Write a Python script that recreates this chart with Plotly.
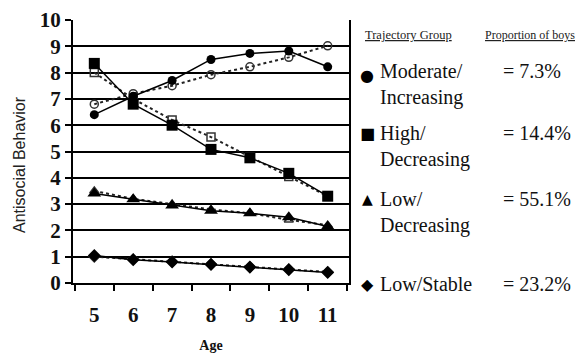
import plotly.graph_objects as go

ages = ["5", "6", "7", "8", "9", "10", "11"]

mod_est = [6.4, 7.1, 7.7, 8.5, 8.73, 8.82, 8.22]
mod_obs = [6.8, 7.2, 7.5, 7.92, 8.22, 8.58, 9.02]
high_est = [8.35, 6.8, 6.0, 5.08, 4.76, 4.17, 3.3]
high_obs = [8.0, 7.0, 6.2, 5.55, 4.8, 4.05, 3.3]
lowdec_est = [3.4, 3.18, 2.95, 2.75, 2.65, 2.5, 2.15]
lowdec_obs = [3.5, 3.2, 3.0, 2.8, 2.65, 2.4, 2.2]
lowst_est = [1.05, 0.88, 0.8, 0.7, 0.6, 0.5, 0.4]
lowst_obs = [1.0, 0.9, 0.82, 0.72, 0.62, 0.52, 0.42]

groups = ["Moderate/<br>Increasing", "High/<br>Decreasing", "Low/<br>Decreasing", "Low/Stable"]
proportions = ["= 7.3%", "= 14.4%", "= 55.1%", "= 23.2%"]
symbols = ["●", "■", "▲", "◆"]

yticks = list(range(0, 11))

fig = go.Figure()

series = [
    (mod_obs, "circle-open", 8),
    (high_obs, "square-open", 8),
    (lowdec_obs, "triangle-up-open", 8),
    (lowst_obs, "diamond-open", 8),
]
for vals, sym, sz in series:
    fig.add_trace(go.Scatter(x=ages, y=vals, mode="lines+markers",
                             line=dict(color="#222", width=2, dash="dot"),
                             marker=dict(symbol=sym, size=sz, color="#333", line=dict(width=1.5, color="#333")),
                             showlegend=False))

series_est = [
    (mod_est, "circle", 9),
    (high_est, "square", 11),
    (lowdec_est, "triangle-up", 12),
    (lowst_est, "diamond", 10),
]
for vals, sym, sz in series_est:
    fig.add_trace(go.Scatter(x=ages, y=vals, mode="lines+markers",
                             line=dict(color="black", width=1.5),
                             marker=dict(symbol=sym, size=sz, color="black"),
                             showlegend=False))

# page body has an 8px margin; figure sized to fit the window
OFF = 8
W, H = 588 - OFF, 353 - OFF
L, T = 73 - OFF, 20 - OFF
R = W - (349 - OFF)
B = H - (283 - OFF)
pw = W - L - R
ph = H - T - B

def px(x):
    return (x - OFF - L) / pw

def py(y):
    return (H - B - (y - OFF)) / ph

serif = "Liberation Serif"

ann = []
ann.append(dict(x=px(363), y=py(35), text="<u>Trajectory Group</u>", xanchor="left", yanchor="middle",
                font=dict(family=serif, size=12.5, color="#222")))
ann.append(dict(x=px(483), y=py(35), text="<u>Proportion of boys</u>", xanchor="left", yanchor="middle",
                font=dict(family=serif, size=12, color="#222")))
ann.append(dict(x=px(20), y=py(165), text="Antisocial Behavior", textangle=-90, xanchor="center", yanchor="middle",
                font=dict(family="Liberation Sans", size=16, color="#222")))

label_y = [71, 133, 199, 284]
sym_y = [75, 133, 199, 284]
sym_size = [16, 16, 14, 16]
for g, p, s, ly, sy, ss in zip(groups, proportions, symbols, label_y, sym_y, sym_size):
    ann.append(dict(x=px(378), y=py(ly - 13), text=g, xanchor="left", yanchor="top", align="left",
                    font=dict(family=serif, size=20, color="#111")))
    ann.append(dict(x=px(501), y=py(ly), text=p, xanchor="left", yanchor="middle",
                    font=dict(family=serif, size=20, color="#111")))
    ann.append(dict(x=px(367), y=py(sy), text=s, xanchor="center", yanchor="middle",
                    font=dict(family="DejaVu Sans", size=ss, color="black")))

for a in ann:
    a.update(xref="paper", yref="paper", showarrow=False)

fig.update_layout(
    width=W, height=H,
    margin=dict(l=L, r=R, t=T, b=B, autoexpand=False),
    paper_bgcolor="white", plot_bgcolor="white",
    annotations=ann,
    xaxis=dict(type="category", categoryorder="array", categoryarray=ages, automargin=False,
               tickson="boundaries", ticks="outside", ticklen=6, tickwidth=1.5, tickcolor="black",
               showline=True, linecolor="black", linewidth=2, mirror=False, showgrid=False,
               tickfont=dict(family=serif, size=21, color="#111", weight="bold"),
               ticklabelstandoff=12,
               title=dict(text="<b>Age</b>", font=dict(family=serif, size=14, color="#111"), standoff=14)),
    yaxis=dict(range=[0, 10], tickvals=yticks, ticks="outside", ticklen=6, tickwidth=1.5, tickcolor="black",
               automargin=False,
               showline=True, linecolor="black", linewidth=2, mirror=True,
               showgrid=True, gridcolor="black", gridwidth=1.5, zeroline=False,
               tickfont=dict(family=serif, size=21, color="#111", weight="bold"),
               ticklabelstandoff=0),
)

fig.write_html("out.html")
